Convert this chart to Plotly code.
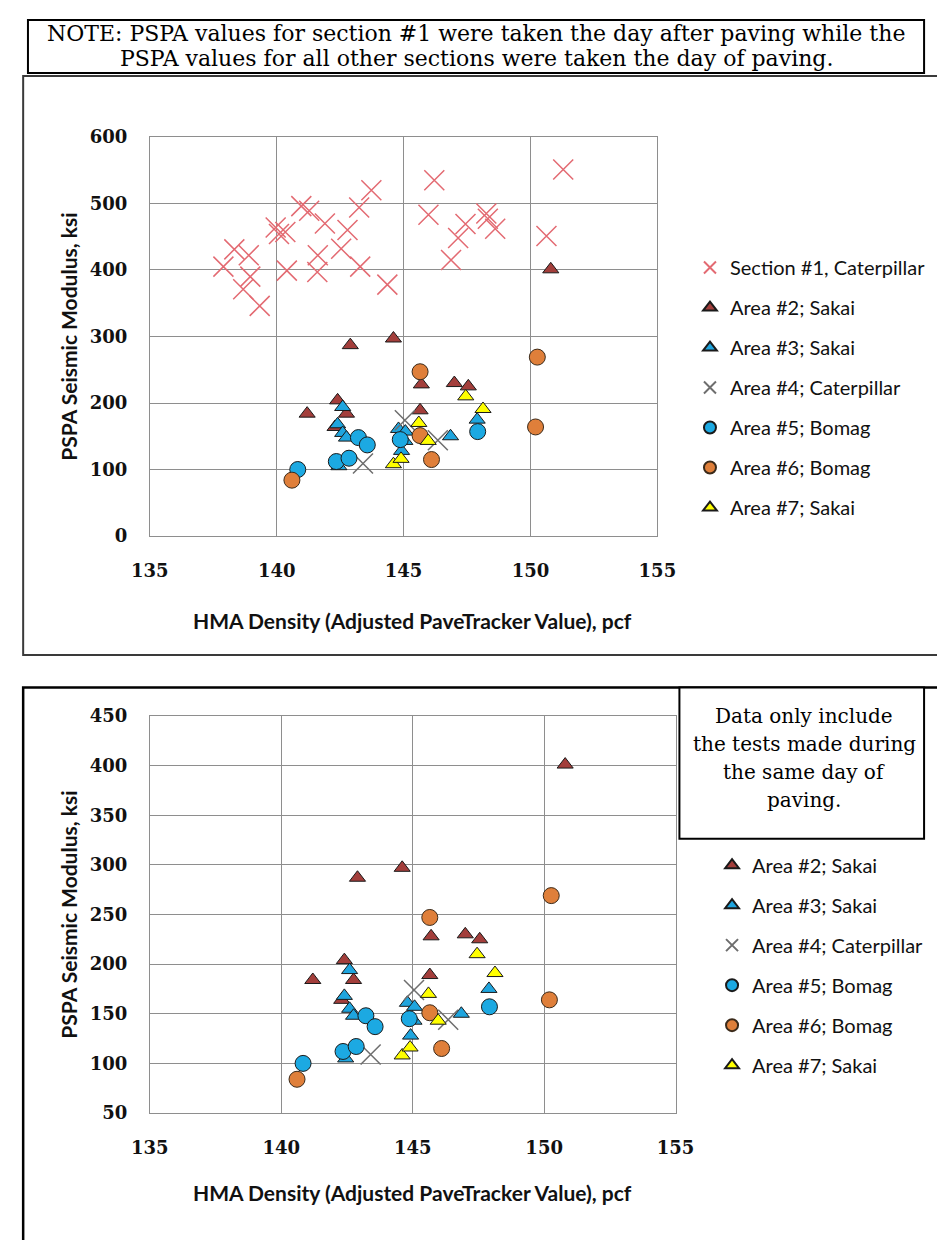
import plotly.graph_objects as go

# page is 945x1240; the browser adds an 8px body margin, so the figure is 8px smaller
OFF = 8
FW, FH = 945 - OFF, 1240 - OFF

# ---------------- data ----------------
s1_x = [137.9, 138.33, 138.9, 138.96, 138.68, 139.33, 139.96, 140.09, 140.34, 140.4,
        140.97, 141.28, 141.9, 141.62, 141.6, 142.54, 142.79, 143.25, 143.73, 143.29,
        144.36, 146.21, 145.98, 147.44, 147.15, 146.87, 148.26, 148.32, 148.61, 150.63, 151.29]
s1_y = [405, 431, 422, 390, 371, 346, 464, 454, 457, 399,
        496, 489, 470, 422, 397, 432, 460, 494, 520, 405,
        378, 535, 483, 469, 448, 415, 485, 477, 462, 451, 551]

a2_x = [141.2, 142.4, 142.75, 142.3, 142.9, 144.6, 145.7, 145.65, 147.0, 147.55, 150.8]
a2_y = [184, 204, 184, 164, 287, 297, 228, 189, 230, 225, 401]

a3_x = [142.6, 142.4, 142.6, 142.75, 142.45, 144.8, 145.07, 145.05, 144.92, 146.85, 147.9]
a3_y = [194, 168, 155, 148, 105, 161, 157, 143, 128, 150, 175]

a4_x = [143.4, 145.05, 146.35]
a4_y = [109, 174, 144]

a5_x = [140.83, 142.35, 142.85, 143.22, 143.57, 144.87, 147.92]
a5_y = [100, 112, 117, 148, 137, 145, 157]

a6_x = [140.6, 145.65, 145.65, 146.1, 150.2, 150.27]
a6_y = [84, 247, 151, 115, 164, 269]

a7_x = [144.6, 144.9, 145.6, 145.97, 147.45, 148.13]
a7_y = [108, 116, 170, 143, 210, 191]

names = ["Section #1, Caterpillar", "Area #2; Sakai", "Area #3; Sakai",
         "Area #4; Caterpillar", "Area #5; Bomag", "Area #6; Bomag", "Area #7; Sakai"]

x_ticks = [135, 140, 145, 150, 155]
y_ticks_top = [0, 100, 200, 300, 400, 500, 600]
y_ticks_bot = [50, 100, 150, 200, 250, 300, 350, 400, 450]

x_title = "HMA Density (Adjusted PaveTracker Value), pcf"
y_title = "PSPA Seismic Modulus, ksi"
note_lines = ["NOTE: PSPA values for section #1 were taken the day after paving while the",
              "PSPA values for all other sections were taken the day of paving."]
box_lines = ["Data only include", "the tests made during", "the same day of", "paving."]

# ---------------- styling ----------------
dark = "#1a1a1a"
styles = {
    "Section #1, Caterpillar": dict(symbol="x-thin", size=20, color="#E36A72", line=dict(color="#E36A72", width=1.5)),
    "Area #2; Sakai": dict(symbol="triangle-up", size=14, color="#A33E3B", line=dict(color=dark, width=1)),
    "Area #3; Sakai": dict(symbol="triangle-up", size=14, color="#1FA5DE", line=dict(color=dark, width=1)),
    "Area #4; Caterpillar": dict(symbol="x-thin", size=20, color="#6E6E6E", line=dict(color="#6E6E6E", width=1.5)),
    "Area #5; Bomag": dict(symbol="circle", size=16, color="#1CA9E2", line=dict(color=dark, width=1)),
    "Area #6; Bomag": dict(symbol="circle", size=16, color="#DF7F3A", line=dict(color="#3a2a1a", width=1)),
    "Area #7; Sakai": dict(symbol="triangle-up", size=14, color="#FFFF00", line=dict(color=dark, width=1)),
}


def px(x):
    return (x - OFF) / FW


def py(y):
    return 1 - (y - OFF) / FH


fig = go.Figure()

series_top = [(s1_x, s1_y), (a2_x, a2_y), (a3_x, a3_y), (a4_x, a4_y),
              (a5_x, a5_y), (a6_x, a6_y), (a7_x, a7_y)]
for i, (name, (xs, ys)) in enumerate(zip(names, series_top)):
    fig.add_trace(go.Scatter(x=xs, y=ys, mode="markers", name=name, marker=styles[name],
                             xaxis="x", yaxis="y", legend="legend", legendgroup="t%d" % i))

for i, (name, (xs, ys)) in enumerate(zip(names[1:], series_top[1:])):
    fig.add_trace(go.Scatter(x=xs, y=ys, mode="markers", name=name, marker=styles[name],
                             xaxis="x2", yaxis="y2", legend="legend2", legendgroup="b%d" % i))

grid = "#8E8E8E"
tickfont = dict(family="DejaVu Serif", size=18, color="#111111", weight="bold")


def axis(domain, anchor, rng, vals):
    return dict(domain=domain, anchor=anchor, range=rng, tickvals=vals,
                showgrid=True, gridcolor=grid, gridwidth=1, showline=True, linecolor=grid,
                linewidth=1, mirror=True, zeroline=False, ticks="", tickfont=tickfont,
                ticklabelstandoff=18, fixedrange=True)


# plot areas in page pixels
top_l, top_r, top_t, top_b = 136, 665, 128, 534
bot_l, bot_r, bot_t, bot_b = 136, 684, 717, 1121

legend_font = dict(family="Lato", size=20, color="#111111")

fig.update_layout(
    width=FW, height=FH, margin=dict(l=0, r=0, t=0, b=0),
    paper_bgcolor="white", plot_bgcolor="white",
    xaxis=axis([px(top_l), px(top_r)], "y", [135, 155], x_ticks),
    yaxis=axis([py(top_b), py(top_t)], "x", [0, 600], y_ticks_top),
    xaxis2=axis([px(bot_l), px(bot_r)], "y2", [135, 155], x_ticks),
    yaxis2=axis([py(bot_b), py(bot_t)], "x2", [50, 450], y_ticks_bot),
    legend=dict(x=px(699), y=py(241), xanchor="left", yanchor="top", font=legend_font,
                bgcolor="rgba(0,0,0,0)", tracegroupgap=11, itemsizing="constant"),
    legend2=dict(x=px(722), y=py(849), xanchor="left", yanchor="top", font=legend_font,
                 bgcolor="rgba(0,0,0,0)", tracegroupgap=11, itemsizing="constant"),
    showlegend=True,
)

shapes = [
    # top chart frame
    dict(type="rect", xref="paper", yref="paper", x0=px(4), x1=px(960), y0=py(655), y1=py(66),
         line=dict(color="#3a3a3a", width=2), layer="below"),
    # note box
    dict(type="rect", xref="paper", yref="paper", x0=px(9), x1=px(943), y0=py(63), y1=py(9),
         line=dict(color="#000000", width=2), fillcolor="white"),
    # bottom chart frame
    dict(type="rect", xref="paper", yref="paper", x0=px(4), x1=px(960), y0=py(1260), y1=py(688),
         line=dict(color="#000000", width=2.5), layer="below"),
    # data box
    dict(type="rect", xref="paper", yref="paper", x0=px(688), x1=px(943), y0=py(842), y1=py(688),
         line=dict(color="#000000", width=2), fillcolor="white"),
]
fig.update_layout(shapes=shapes)

ann = []
note_font = dict(family="DejaVu Serif", size=22, color="#000000")
for i, t in enumerate(note_lines):
    ann.append(dict(text=t, x=px(476), y=py(22.5 + 26 * i), xref="paper", yref="paper",
                    showarrow=False, font=note_font, xanchor="center", yanchor="middle"))
box_font = dict(family="DejaVu Serif", size=20, color="#000000")
for i, t in enumerate(box_lines):
    ann.append(dict(text=t, x=px(818), y=py(717 + 28.5 * i), xref="paper", yref="paper",
                    showarrow=False, font=box_font, xanchor="center", yanchor="middle"))

title_font = dict(family="Lato", size=21, color="#111111", weight="bold")
for (xl, xr, yt, yb, xty) in [(top_l, top_r, top_t, top_b, 620), (bot_l, bot_r, bot_t, bot_b, 1202)]:
    ann.append(dict(text=x_title, x=px(410), y=py(xty), xref="paper", yref="paper",
                    showarrow=False, font=title_font, xanchor="center", yanchor="middle"))
    ann.append(dict(text=y_title, x=px(51), y=py((yt + yb) / 2), xref="paper", yref="paper",
                    showarrow=False, font=title_font, textangle=-90, xanchor="center", yanchor="middle"))
fig.update_layout(annotations=ann)

fig.write_html("out.html")
